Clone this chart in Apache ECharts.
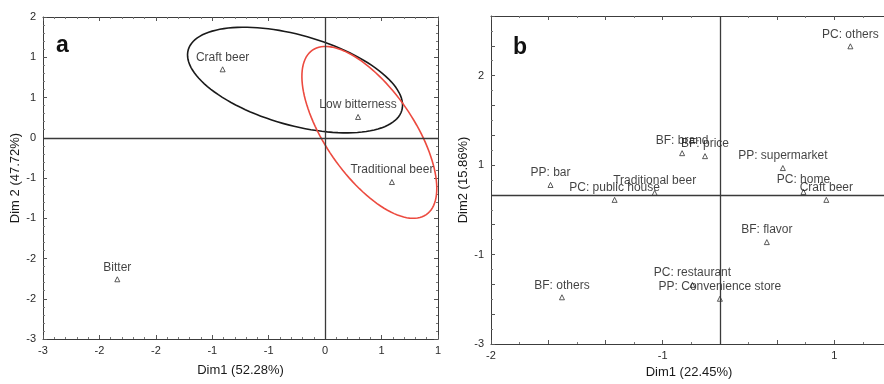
<!DOCTYPE html>
<html><head><meta charset="utf-8">
<script src="https://cdn.jsdelivr.net/npm/echarts@6/dist/echarts.min.js"></script>
<style>html,body{margin:0;padding:0;background:#fff}#c{width:884px;height:384px}</style>
</head><body><div id="c"></div>
<script>
// ---- Panel a data ----
const aNames = ['Craft beer', 'Low bitterness', 'Traditional beer', 'Bitter'];
const aDim1 = [-1.09, 0.35, 0.71, -2.21];
const aDim2 = [1.02, 0.31, -0.66, -2.11];
const aXTicks = [-3, -2.4, -1.8, -1.2, -0.6, 0, 0.6, 1.2];
const aXTickLabels = ['-3', '-2', '-2', '-1', '-1', '0', '1', '1'];
const aYTicks = [-3, -2.4, -1.8, -1.2, -0.6, 0, 0.6, 1.2, 1.8];
const aYTickLabels = ['-3', '-2', '-2', '-1', '-1', '0', '1', '1', '2'];
// confidence ellipse centres (Dim1, Dim2)
const ellDim1 = [-0.32, 0.47];
const ellDim2 = [0.86, 0.08];

// ---- Panel b data ----
const bNames = ['PC: others', 'BF: brand', 'BF: price', 'PP: supermarket', 'PC: home', 'Craft beer',
  'PP: bar', 'PC: public house', 'Traditional beer', 'BF: flavor', 'BF: others', 'PC: restaurant', 'PP: Convenience store'];
const bDim1 = [1.14, -0.33, -0.13, 0.55, 0.73, 0.93, -1.48, -0.92, -0.57, 0.41, -1.38, -0.24, 0.0];
const bDim2 = [2.99, 0.84, 0.78, 0.54, 0.06, -0.10, 0.20, -0.10, 0.04, -0.95, -2.06, -1.81, -2.09];
const bXTicks = [-2, -0.5, 1];
const bXTickLabels = ['-2', '-1', '1'];
const bYTicks = [-3, -1.2, 0.6, 2.4];
const bYTickLabels = ['-3', '-1', '1', '2'];

// ---- styling ----
const ellStyle = [
  { a: 111, b: 45, angle: 15.8, color: '#1a1a1a' },
  { a: 100, b: 44, angle: 55.3, color: '#ec4a3f' }
];
const labelOffsets = { 'BF: price': [13, 2] };
const FONT = 'Liberation Sans, Arial, sans-serif';

function lookup(ticks, labels) {
  return function (v) {
    for (let i = 0; i < ticks.length; i++) if (Math.abs(v - ticks[i]) < 1e-6) return labels[i];
    return '';
  };
}

function axisPair(gridIndex, isX, min, max, interval, ticks, labels, name, nameGap, minorSplit, mirrorShow) {
  const line = { show: true, onZero: false, lineStyle: { color: '#3c3c3c', width: 1 } };
  const tick = { show: true, inside: true, length: 4, lineStyle: { color: '#555' } };
  const minor = { show: true, splitNumber: minorSplit, length: 2, lineStyle: { color: '#777' } };
  const main = {
    type: 'value', gridIndex, min, max, interval,
    position: isX ? 'bottom' : 'left',
    axisLine: line, axisTick: tick, minorTick: minor,
    splitLine: { show: false },
    axisLabel: { show: true, formatter: lookup(ticks, labels), color: '#2a2a2a', fontSize: 11, fontFamily: FONT, margin: isX ? 6 : 7 },
    name, nameLocation: 'middle', nameGap,
    nameTextStyle: { color: '#1a1a1a', fontSize: 13, fontFamily: FONT }
  };
  const mirror = {
    type: 'value', gridIndex, min, max, interval, show: mirrorShow,
    position: isX ? 'top' : 'right',
    axisLine: line, axisTick: tick, minorTick: minor,
    splitLine: { show: false },
    axisLabel: { show: false }
  };
  return [main, mirror];
}

const xAxes = [
  ...axisPair(0, true, -3, 1.2, 0.6, aXTicks, aXTickLabels, 'Dim1 (52.28%)', 25, 5, true),
  ...axisPair(1, true, -2, 1.46, 0.5, bXTicks, bXTickLabels, 'Dim1 (22.45%)', 18, 2, true)
];
const yAxes = [
  ...axisPair(0, false, -3, 1.8, 0.6, aYTicks, aYTickLabels, 'Dim 2 (47.72%)', 19, 5, true),
  ...axisPair(1, false, -3, 3.6, 0.6, bYTicks, bYTickLabels, 'Dim2 (15.86%)', 19, 2, false)
];

function scatterData(names, d1, d2) {
  return names.map((n, i) => {
    const item = { name: n, value: [d1[i], d2[i]] };
    if (labelOffsets[n] && names === bNames) item.label = { offset: labelOffsets[n] };
    return item;
  });
}

const zeroLines = {
  silent: true, symbol: ['none', 'none'], label: { show: false },
  lineStyle: { type: 'solid', color: '#3a3a3a', width: 1.3 },
  data: [{ xAxis: 0 }, { yAxis: 0 }]
};

function scatter(xi, yi, names, d1, d2) {
  return {
    type: 'scatter', xAxisIndex: xi, yAxisIndex: yi,
    data: scatterData(names, d1, d2),
    symbol: 'triangle', symbolSize: 5,
    itemStyle: { color: '#fff', borderColor: '#333', borderWidth: 1 },
    label: { show: true, position: 'top', distance: 3, formatter: p => p.name, color: '#111', fontSize: 12, fontFamily: FONT },
    labelLayout: { hideOverlap: false },
    markLine: zeroLines, z: 3
  };
}

const option = {
  animation: false,
  backgroundColor: '#fff',
  grid: [
    { left: 43, top: 17, width: 395, height: 322, outerBoundsMode: 'none', containLabel: false },
    { left: 491, top: 16, width: 396, height: 328, outerBoundsMode: 'none', containLabel: false }
  ],
  xAxis: xAxes,
  yAxis: yAxes,
  title: [
    { text: 'a', left: 51, top: 29, textStyle: { fontSize: 23, fontWeight: 'bold', color: '#111', fontFamily: FONT } },
    { text: 'b', left: 508, top: 31, textStyle: { fontSize: 23, fontWeight: 'bold', color: '#111', fontFamily: FONT } }
  ],
  series: [
    scatter(0, 0, aNames, aDim1, aDim2),
    scatter(2, 2, bNames, bDim1, bDim2),
    {
      type: 'custom', xAxisIndex: 0, yAxisIndex: 0, silent: true, z: 2,
      data: ellDim1.map((v, i) => [v, ellDim2[i]]),
      renderItem: function (params, api) {
        const c = api.coord([api.value(0), api.value(1)]);
        const s = ellStyle[params.dataIndex];
        const th = s.angle * Math.PI / 180;
        const pts = [];
        for (let k = 0; k < 120; k++) {
          const t = k / 120 * Math.PI * 2;
          const ex = s.a * Math.cos(t), ey = s.b * Math.sin(t);
          pts.push([c[0] + ex * Math.cos(th) - ey * Math.sin(th), c[1] + ex * Math.sin(th) + ey * Math.cos(th)]);
        }
        return { type: 'polygon', shape: { points: pts }, style: { fill: 'none', stroke: s.color, lineWidth: 1.6 } };
      }
    }
  ]
};

const chart = echarts.init(document.getElementById('c'), null, { renderer: 'canvas' });
chart.setOption(option);
</script>
</body></html>
